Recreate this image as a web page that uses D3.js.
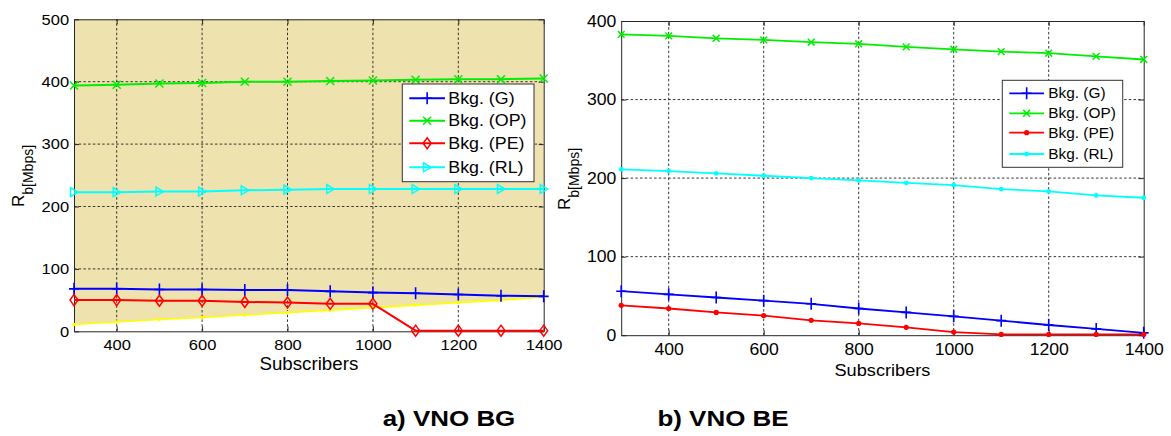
<!DOCTYPE html>
<html><head><meta charset="utf-8">
<script src="https://cdn.jsdelivr.net/npm/d3@7"></script>
<style>
body{margin:0;background:#fff}
svg text{font-family:"Liberation Sans",Arial,Helvetica,sans-serif;fill:#000}
</style>
</head><body>
<svg id="chart" width="1171" height="436"></svg>
<script>
// ---------------- DATA ----------------
const subscribers = [300,400,500,600,700,800,900,1000,1100,1200,1300,1400];
const xTickValues = [400,600,800,1000,1200,1400];
const yTicksBG = [0,100,200,300,400,500];
const yTicksBE = [0,100,200,300,400];
const seriesNames = ["Bkg. (G)","Bkg. (OP)","Bkg. (PE)","Bkg. (RL)"];
const captions = ["a) VNO BG","b) VNO BE"];
const xLabel = "Subscribers";
const yLabelMain = "R";
const yLabelSub = "b[Mbps]";

// a) VNO BG
const bgG  = [68,68,67,67,66,66,64,62,61,59,57,56];
const bgOP = [394,395,397,398,400,400,401,402,403,404,404,405];
const bgPE = [50,50,49,49,47,46,44,44,1,1,1,1];
const bgRL = [223,223,224,224,226,227,228,228,228,228,228,228];
const bgLimit = [11,15,19,22,26,30,34,38,42,46,50,55];

// b) VNO BE
const beG  = [56,52,48,44,40,34,29,24,18.5,13,8,3];
const beOP = [383,381,378,376,373,371,367,364,361,359,355,351];
const bePE = [38,34,29,25,19,15,10,4,1,1,1,1];
const beRL = [211,209,206,203,200,197,194,191,186,183,178,175];

// ---------------- STYLE ----------------
const colors = ["#0000ff","#00ee00","#ff0000","#00ffff"];
const SX = 1.1; // horizontal stretch of the original figure's text
const svg = d3.select("#chart");

function stext(parent, x, y, str, o){
  const t = parent.append("text")
    .attr("transform", `translate(${x},${y}) scale(${o.sx||SX},1)`)
    .attr("text-anchor", o.anchor||"start")
    .style("font-size", o.size+"px")
    .style("font-weight", o.weight||"normal")
    .text(str);
  if (o.central) t.attr("dy","0.35em");
  return t;
}

const markers = {
  plus: s => `M${-5*s},0H${5*s}M0,${-6*s}V${6*s}`,
  cross: s => `M${-4*s},${-4*s}L${4*s},${4*s}M${-4*s},${4*s}L${4*s},${-4*s}`,
  diamond: s => `M0,${-5.5*s}L${4*s},0L0,${5.5*s}L${-4*s},0Z`,
  tri: s => `M${-3.5*s},${-4.5*s}L${4*s},0L${-3.5*s},${4.5*s}Z`
};

function drawMarker(g, type, x, y, color, size){
  if (type === "dot") {
    g.append("circle").attr("cx",x).attr("cy",y).attr("r",size).attr("fill",color);
  } else {
    g.append("path").attr("d", markers[type](size)).attr("transform",`translate(${x},${y})`)
      .attr("fill","none").attr("stroke",color).attr("stroke-width", type==="plus"?1.6:1.5);
  }
}

function panel(cfg){
  const g = svg.append("g");
  const x = d3.scaleLinear().domain([300,1400]).range(cfg.xr);
  const y = d3.scaleLinear().domain(cfg.yd).range(cfg.yr);
  const [x0,x1] = cfg.xr, [yb,yt] = cfg.yr;

  if (cfg.limit) {
    const area = d3.area().x((d,i)=>x(subscribers[i])).y0((d)=>y(d)).y1(y(cfg.yd[1]));
    g.append("path").datum(cfg.limit).attr("d", area).attr("fill","#eee2af");
  }

  // grid
  const grid = g.append("g").attr("stroke","#222").attr("stroke-width",0.9)
     .attr("stroke-dasharray","2.5,2.2");
  xTickValues.filter(v=>v<1400).forEach(v=>grid.append("line")
      .attr("x1",x(v)).attr("x2",x(v)).attr("y1",yb).attr("y2",yt));
  cfg.yticks.filter(v=>v>cfg.yd[0] && v<cfg.yd[1]).forEach(v=>grid.append("line")
      .attr("x1",x0).attr("x2",x1).attr("y1",y(v)).attr("y2",y(v)));

  // axes
  const ax = (gen, tr) => {
    const a = g.append("g").attr("transform", tr).call(gen);
    a.selectAll("path.domain").attr("stroke","#262626").attr("stroke-width",1);
    a.selectAll(".tick line").attr("stroke","#262626");
    a.attr("font-family",null).attr("font-size",null);
    return a;
  };
  const bottom = ax(d3.axisBottom(x).tickValues(xTickValues).tickSizeInner(-5).tickSizeOuter(0)
      .tickPadding(cfg.xpad).tickFormat(d3.format("d")), `translate(0,${yb})`);
  bottom.selectAll("text").style("font-size",cfg.tickSize+"px").attr("transform",`scale(${SX},1)`);
  const left = ax(d3.axisLeft(y).tickValues(cfg.yticks).tickSizeInner(-5).tickSizeOuter(0)
      .tickPadding(4.5).tickFormat(d3.format("d")), `translate(${x0},0)`);
  left.selectAll("text").style("font-size",cfg.tickSize+"px").attr("transform",`scale(${SX},1)`);
  ax(d3.axisTop(x).tickValues(xTickValues).tickSizeInner(-5).tickSizeOuter(0).tickFormat(""), `translate(0,${yt})`);
  ax(d3.axisRight(y).tickValues(cfg.yticks).tickSizeInner(-5).tickSizeOuter(0).tickFormat(""), `translate(${x1},0)`);

  // limit line (yellow)
  if (cfg.limit) {
    const ln = d3.line().x((d,i)=>x(subscribers[i])).y(d=>y(d));
    g.append("path").datum(cfg.limit).attr("d", ln).attr("fill","none")
      .attr("stroke","#ffff00").attr("stroke-width",1.6);
    cfg.limit.forEach((v,i)=>g.append("circle").attr("cx",x(subscribers[i])).attr("cy",y(v))
      .attr("r",1.8).attr("fill","#ffff00"));
  }

  // series
  const line = d3.line().x((d,i)=>x(subscribers[i])).y(d=>y(d));
  cfg.series.forEach((s,k)=>{
    g.append("path").datum(s).attr("d", line).attr("fill","none")
      .attr("stroke",colors[k]).attr("stroke-width",cfg.lw).attr("stroke-linejoin","round");
  });
  cfg.series.forEach((s,k)=>{
    s.forEach((v,i)=>drawMarker(g, cfg.mk[k], x(subscribers[i]), y(v), colors[k], cfg.ms[k]));
  });

  // labels
  stext(g, (x0+x1)/2, cfg.xlabY, xLabel, {size:cfg.xlabSize, anchor:"middle", sx:1.07});
  const yl = g.append("text").attr("transform",`translate(${cfg.ylab[0]},${cfg.ylab[1]}) rotate(-90)`)
    .attr("text-anchor","start");
  yl.append("tspan").style("font-size","17px").text(yLabelMain);
  yl.append("tspan").style("font-size","14px").attr("dy",8.5).text(yLabelSub);

  // legend
  const L = cfg.legend;
  g.append("rect").attr("x",L.box[0]).attr("y",L.box[1]).attr("width",L.box[2]-L.box[0])
    .attr("height",L.box[3]-L.box[1]).attr("fill","#fff").attr("stroke","#333").attr("stroke-width",1);
  seriesNames.forEach((nm,k)=>{
    const ry = L.rows[k];
    g.append("line").attr("x1",L.l0).attr("x2",L.l1).attr("y1",ry).attr("y2",ry)
      .attr("stroke",colors[k]).attr("stroke-width",cfg.lw);
    drawMarker(g, cfg.mk[k], (L.l0+L.l1)/2, ry, colors[k], cfg.ms[k]);
    stext(g, L.tx, ry, nm, {size:L.size, central:true, sx:L.sx});
  });
}

panel({
  xr:[74,543.7], yr:[331.3,19.3], yd:[0,500], yticks:yTicksBG,
  limit: bgLimit, series:[bgG,bgOP,bgPE,bgRL],
  mk:["plus","cross","diamond","tri"], ms:[1,1,1,1], lw:2,
  tickSize:15, xpad:8, xlabSize:17.5, xlabY:369.5, ylab:[24,207],
  legend:{box:[402.3,84,534,181.7], rows:[98.3,120.7,143.3,167.3], l0:409.3, l1:445, tx:448.3, size:16.5, sx:1.08}
});
panel({
  xr:[621.2,1143.7], yr:[335.2,21], yd:[0,400], yticks:yTicksBE,
  limit: null, series:[beG,beOP,bePE,beRL],
  mk:["plus","cross","dot","dot"], ms:[1,0.85,2.6,2.4], lw:1.8,
  tickSize:16, xpad:8.4, xlabSize:17, xlabY:375.5, ylab:[570,210],
  legend:{box:[1002.3,80.3,1122.7,167.3], rows:[93.3,113.3,132.7,154], l0:1009.3, l1:1044, tx:1048.3, size:14, sx:1.1}
});

stext(svg, 449, 426, captions[0], {size:22, anchor:"middle", weight:"bold", sx:1.18});
stext(svg, 723, 426, captions[1], {size:22, anchor:"middle", weight:"bold", sx:1.18});
</script>
</body></html>
